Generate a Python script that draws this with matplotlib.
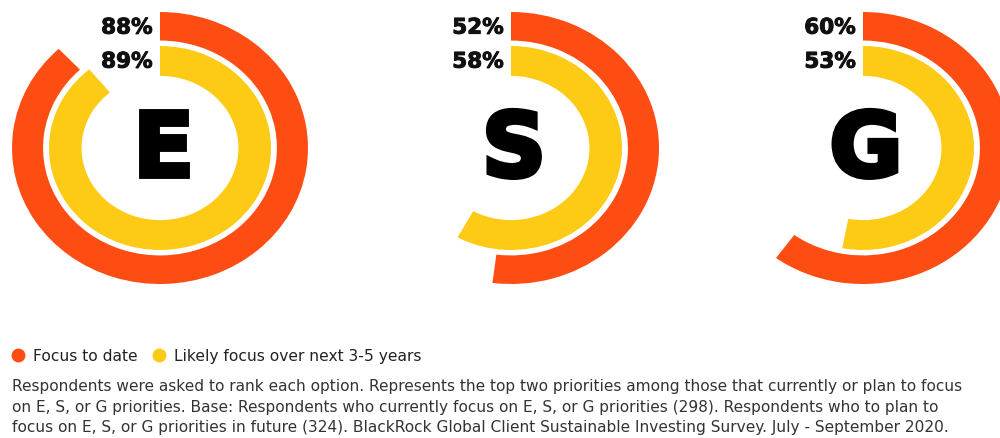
import matplotlib
matplotlib.use("Agg")
import matplotlib.pyplot as plt
from matplotlib.patches import Wedge
from matplotlib.lines import Line2D
import matplotlib.patheffects as pe

# ---- data ----
letters = ["E", "S", "G"]
focus_to_date = [88, 52, 60]
likely_focus = [89, 58, 53]
series_names = ["Focus to date", "Likely focus over next 3-5 years"]
footnote = [
    "Respondents were asked to rank each option. Represents the top two priorities among those that currently or plan to focus",
    "on E, S, or G priorities. Base: Respondents who currently focus on E, S, or G priorities (298). Respondents who to plan to",
    "focus on E, S, or G priorities in future (324). BlackRock Global Client Sustainable Investing Survey. July - September 2020.",
]

# ---- style ----
ORANGE = "#FE4D12"
YELLOW = "#FDCB16"
W, H = 1000, 439
centers_x = [160, 511, 863]
cy = 149
rx, ry = 148, 136
ring_w = 0.21
gap = 0.04

fig = plt.figure(figsize=(W / 100, H / 100), dpi=100)
fig.patch.set_facecolor("white")

for letter, v1, v2, cx in zip(letters, focus_to_date, likely_focus, centers_x):
    ax = fig.add_axes([(cx - rx) / W, (H - (cy + ry)) / H, 2 * rx / W, 2 * ry / H])
    ax.set_xlim(-1, 1)
    ax.set_ylim(-1, 1)
    ax.axis("off")
    r1 = 1.0
    r2 = r1 - ring_w - gap
    ax.add_patch(Wedge((0, 0), r1, 90 - 360 * v1 / 100, 90, width=ring_w,
                       facecolor=ORANGE, edgecolor="none"))
    ax.add_patch(Wedge((0, 0), r2, 90 - 360 * v2 / 100, 90, width=ring_w + 0.01,
                       facecolor=YELLOW, edgecolor="none"))
    for val, rr in ((v1, r1), (v2, r2)):
        ax.text(-0.05, rr - ring_w / 2 - 0.01, f"{val}%", ha="right", va="center",
                fontsize=15.5, fontweight="bold", color="#111111",
                path_effects=[pe.withStroke(linewidth=0.7, foreground="#111111",
                                            joinstyle="miter")])
    ax.text(0.02, 0.042, letter, ha="center", va="center_baseline",
            fontsize=64, fontweight="heavy", color="black",
            path_effects=[pe.withStroke(linewidth=3.5, foreground="black",
                                        joinstyle="miter")])

handles = [
    Line2D([], [], marker="o", linestyle="none", markersize=10,
           markerfacecolor=ORANGE, markeredgecolor="none"),
    Line2D([], [], marker="o", linestyle="none", markersize=10,
           markerfacecolor=YELLOW, markeredgecolor="none"),
]
fig.legend(handles, series_names, loc="center left",
           bbox_to_anchor=(4 / W, 1 - 357 / H), ncol=2, frameon=False,
           fontsize=11.2, handlelength=1.0, handletextpad=0.46,
           columnspacing=0.9, labelcolor="#222222", borderaxespad=0.0)

for i, line in enumerate(footnote):
    fig.text(12 / W, 1 - (387 + 20.5 * i) / H, line, ha="left", va="center",
             fontsize=11.05, color="#333333")

fig.savefig("out.png", dpi=100, facecolor="white")
